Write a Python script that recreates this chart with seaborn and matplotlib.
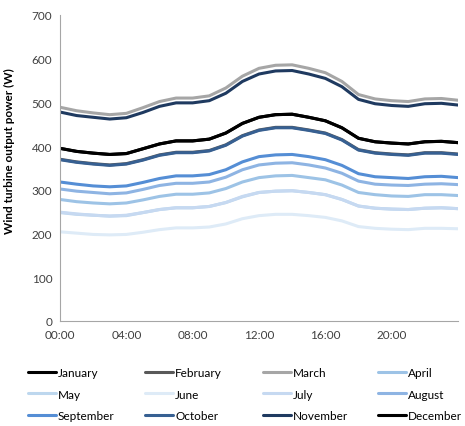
import pandas as pd
import matplotlib
matplotlib.use("Agg")
import matplotlib.pyplot as plt
import seaborn as sns
from matplotlib.lines import Line2D

# Hourly values (00:00 .. 24:00)
hours = list(range(25))

january = [395, 388, 384, 381, 383, 394, 405, 412, 412, 416, 430, 452, 466, 472, 473, 466, 458, 442, 418, 410, 407, 405, 410, 411, 408]
february = [370, 364, 360, 357, 360, 369, 380, 386, 386, 390, 403, 424, 437, 443, 443, 437, 430, 415, 392, 385, 382, 380, 385, 385, 382]
march = [489, 481, 476, 472, 475, 488, 502, 510, 510, 515, 533, 560, 578, 585, 586, 578, 568, 548, 518, 508, 504, 502, 508, 509, 505]
april = [278, 273, 270, 268, 270, 277, 285, 290, 290, 293, 303, 318, 328, 332, 333, 328, 323, 311, 294, 289, 286, 285, 289, 289, 287]
may = [248, 244, 242, 240, 241, 248, 255, 259, 259, 262, 271, 284, 294, 297, 298, 294, 289, 278, 263, 258, 256, 255, 258, 259, 257]
june = [204, 201, 198, 197, 198, 203, 209, 213, 213, 215, 222, 234, 241, 244, 244, 241, 237, 229, 216, 212, 210, 209, 212, 212, 211]
july = [249, 245, 242, 240, 242, 248, 255, 259, 259, 262, 271, 285, 294, 297, 298, 294, 289, 278, 263, 258, 256, 255, 258, 259, 257]
august = [302, 297, 294, 291, 293, 301, 310, 315, 315, 318, 329, 346, 357, 361, 362, 357, 350, 338, 320, 313, 311, 310, 313, 314, 312]
september = [318, 313, 309, 307, 309, 317, 326, 332, 332, 335, 346, 364, 376, 380, 381, 376, 369, 356, 337, 330, 328, 326, 330, 331, 328]
october = [369, 363, 359, 356, 359, 368, 379, 385, 385, 389, 402, 423, 436, 442, 442, 436, 429, 414, 391, 384, 381, 379, 384, 384, 381]
november = [478, 470, 466, 462, 465, 477, 491, 499, 499, 504, 521, 548, 565, 572, 573, 565, 555, 536, 507, 497, 493, 491, 497, 498, 494]
december = [395, 388, 384, 381, 383, 394, 405, 412, 412, 416, 430, 452, 466, 472, 473, 466, 458, 442, 418, 410, 407, 405, 410, 411, 408]

months = ["January", "February", "March", "April", "May", "June",
          "July", "August", "September", "October", "November", "December"]
series = [january, february, march, april, may, june,
          july, august, september, october, november, december]

tick_hours = [0, 4, 8, 12, 16, 20]
tick_labels = ["00:00", "04:00", "08:00", "12:00", "16:00", "20:00"]

month_colors = {
    "January": "#000000",
    "February": "#595959",
    "March": "#a6a6a6",
    "April": "#9dc3e6",
    "May": "#bdd7ee",
    "June": "#deebf7",
    "July": "#c6d9f1",
    "August": "#8eb4e3",
    "September": "#558ed5",
    "October": "#376092",
    "November": "#1f3a60",
    "December": "#000000",
}

# Long-form table for seaborn
df = pd.concat(
    [pd.DataFrame({"hour": hours, "power": vals, "month": m}) for m, vals in zip(months, series)],
    ignore_index=True,
)

sns.set_style("white")
plt.rcParams["font.family"] = ["Lato", "DejaVu Sans"]

fig = plt.figure(figsize=(4.65, 4.27), dpi=100)
ax = fig.add_axes([60 / 465, 1 - 322 / 427, 398 / 465, 306 / 427])

sns.lineplot(
    data=df, x="hour", y="power", hue="month", hue_order=months,
    palette=month_colors, linewidth=2.2, legend=False, ax=ax,
)

ax.set_xlim(0, 24)
ax.set_ylim(0, 700)
ax.set_xticks(tick_hours)
ax.set_xticklabels(tick_labels)
ax.set_yticks(range(0, 701, 100))
ax.set_xlabel("")
ax.set_ylabel("Wind turbine output power (W)", fontsize=8.5, fontweight="bold", color="#000000")
ax.yaxis.set_label_coords(-0.113, 0.56)

for side in ["top", "right"]:
    ax.spines[side].set_visible(False)
for side in ["left", "bottom"]:
    ax.spines[side].set_color("#a6a6a6")
    ax.spines[side].set_linewidth(0.8)
ax.tick_params(axis="both", direction="out", length=3.5, width=0.8, color="#a6a6a6",
               labelsize=8.5, labelcolor="#404040", pad=2)

# One legend per column so the column starts line up like the original
col_x = [28, 145, 263, 378]
for j, x0 in enumerate(col_x):
    names = months[j::4]
    handles = [Line2D([], [], color=month_colors[n], linewidth=2.2) for n in names]
    fig.legend(
        handles, names, loc="upper left",
        bbox_to_anchor=(x0 / 465, 1 - 368 / 427),
        frameon=False, fontsize=8.5, handlelength=2.4, handletextpad=0.15,
        labelspacing=0.9, borderpad=0, borderaxespad=0, labelcolor="#000000",
    )

fig.savefig("out.png", dpi=100)
